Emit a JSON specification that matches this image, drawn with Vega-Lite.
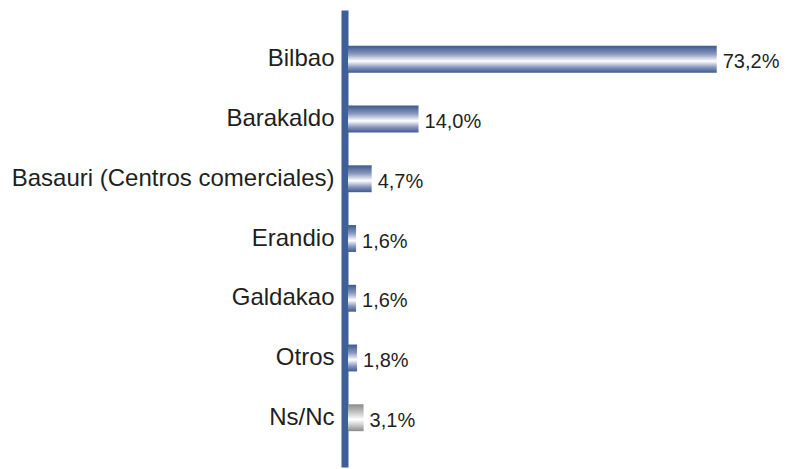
{
  "$schema": "https://vega.github.io/schema/vega-lite/v6.json",
  "autosize": {"type": "none"},
  "padding": {"left": 348, "top": 10, "right": 37, "bottom": 2},
  "width": 403,
  "height": 457,
  "background": "white",
  "config": {"view": {"stroke": null}, "font": "Liberation Sans"},
  "data": {
    "values": [
      {"lugar": "Bilbao", "pct": 73.2, "label": "73,2%", "grupo": "a"},
      {"lugar": "Barakaldo", "pct": 14.0, "label": "14,0%", "grupo": "a"},
      {"lugar": "Basauri (Centros comerciales)", "pct": 4.7, "label": "4,7%", "grupo": "a"},
      {"lugar": "Erandio", "pct": 1.6, "label": "1,6%", "grupo": "a"},
      {"lugar": "Galdakao", "pct": 1.6, "label": "1,6%", "grupo": "a"},
      {"lugar": "Otros", "pct": 1.8, "label": "1,8%", "grupo": "a"},
      {"lugar": "Ns/Nc", "pct": 3.1, "label": "3,1%", "grupo": "b"}
    ]
  },
  "encoding": {
    "y": {
      "field": "lugar", "type": "nominal", "sort": null, "title": null,
      "scale": {"paddingInner": 0.55, "paddingOuter": 0.6},
      "axis": {
        "domainColor": "#3d5f9a", "domainWidth": 7, "domainCap": "butt",
        "offset": 3.5, "ticks": false, "labelPadding": 10.5,
        "labelFontSize": 24, "labelColor": "#231f20", "labelFont": "Liberation Sans",
        "labelLimit": 400, "grid": false
      }
    },
    "x": {
      "field": "pct", "type": "quantitative", "title": null,
      "scale": {"domain": [0, 80], "nice": false}, "axis": null
    }
  },
  "layer": [
    {
      "transform": [{"filter": "datum.grupo === 'a'"}],
      "mark": {
        "type": "bar",
        "fill": {
          "gradient": "linear", "x1": 0, "y1": 0, "x2": 0, "y2": 1,
          "stops": [
            {"offset": 0, "color": "#3e5a8e"},
            {"offset": 0.3, "color": "#8796bd"},
            {"offset": 0.57, "color": "#ffffff"},
            {"offset": 0.8, "color": "#8796bd"},
            {"offset": 1, "color": "#3e5a8e"}
          ]
        }
      }
    },
    {
      "transform": [{"filter": "datum.grupo === 'b'"}],
      "mark": {
        "type": "bar",
        "fill": {
          "gradient": "linear", "x1": 0, "y1": 0, "x2": 0, "y2": 1,
          "stops": [
            {"offset": 0, "color": "#8a8a8a"},
            {"offset": 0.3, "color": "#c4c4c4"},
            {"offset": 0.57, "color": "#ffffff"},
            {"offset": 0.8, "color": "#c4c4c4"},
            {"offset": 1, "color": "#8a8a8a"}
          ]
        }
      }
    },
    {
      "mark": {
        "type": "text", "align": "left", "baseline": "middle", "dx": 6, "dy": 3,
        "fontSize": 20, "color": "#231f20", "font": "Liberation Sans"
      },
      "encoding": {"text": {"field": "label"}}
    }
  ]
}
